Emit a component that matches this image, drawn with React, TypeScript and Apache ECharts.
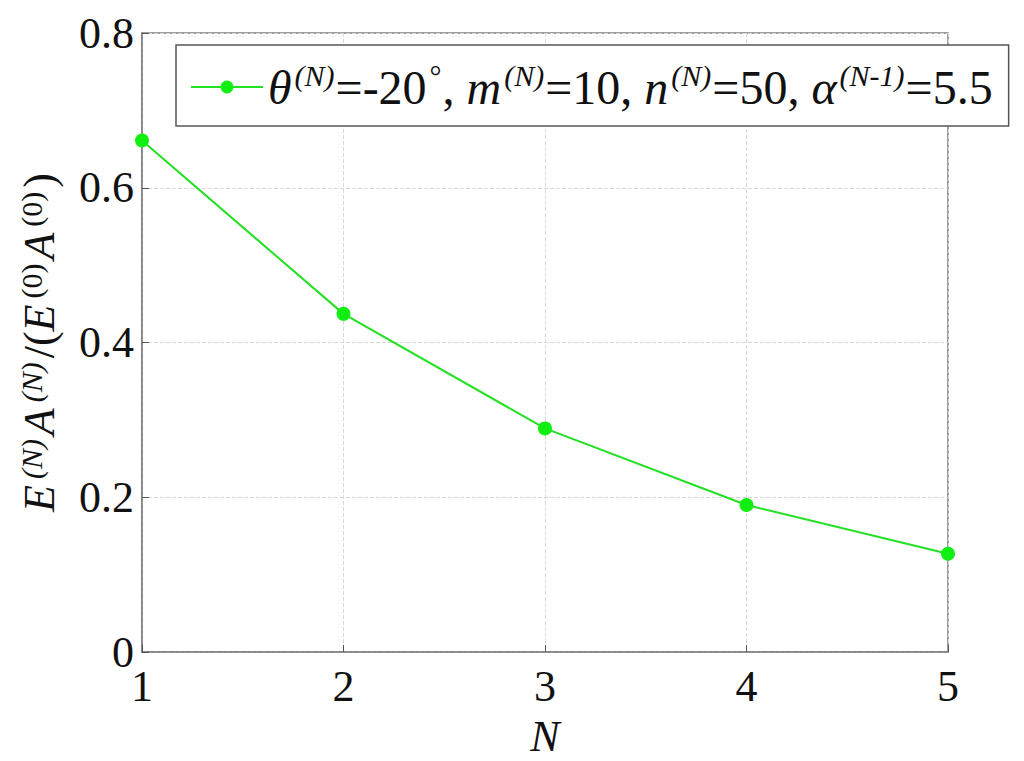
import React, { useEffect, useRef } from "react";
import * as echarts from "echarts";

const xValues = [1, 2, 3, 4, 5];
const yValues = [0.661, 0.437, 0.289, 0.19, 0.127];
const xTicks = [1, 2, 3, 4, 5];
const yTicks = [0, 0.2, 0.4, 0.6, 0.8];
const seriesName = "theta";

const FONT = "'Liberation Serif', 'Times New Roman', serif";

export default function App() {
  const ref = useRef<HTMLDivElement>(null);
  useEffect(() => {
    document.body.style.margin = "0";
    document.body.style.overflow = "hidden";
    if (!ref.current) return;
    const chart = echarts.init(ref.current, undefined, { renderer: "svg" });
    const mk = (size: number, supSize: number, raise: number, gapL: number, gapR: number) => ({
      it: { fontFamily: FONT, fontSize: size, fontStyle: "italic", color: "#111" },
      rm: { fontFamily: FONT, fontSize: size, color: "#111" },
      sup: { fontFamily: FONT, fontSize: supSize, fontStyle: "italic", color: "#111", verticalAlign: "top", padding: [0, gapR, raise, gapL] },
      supN: { fontFamily: FONT, fontSize: supSize, color: "#111", verticalAlign: "top", padding: [0, gapR, raise, gapL] },
    });
    chart.setOption({
      animation: false,
      backgroundColor: "#fff",
      grid: {
        left: 142,
        right: 76,
        top: 33,
        bottom: 109,
        containLabel: false,
        outerBoundsMode: "none",
        show: true,
        borderColor: "#7f7f7f",
        borderWidth: 1.5,
      },
      legend: {
        left: 176,
        top: 45,
        itemWidth: 72,
        itemHeight: 16,
        itemGap: 10,
        padding: [15, 16, 15, 14],
        borderColor: "#555",
        borderWidth: 1.5,
        backgroundColor: "#fff",
        data: [seriesName],
        formatter: () =>
          "{it|θ}{sup|(N)}{rm|=-20}{supN|°}{rm|, }{it|m}{sup|(N)}{rm|=10, }{it|n}{sup|(N)}{rm|=50, }{it|α}{sup|(N-1)}{rm|=5.5}",
        textStyle: { rich: mk(48, 30, 24, 3, 1) },
      },
      xAxis: {
        type: "value",
        min: 1,
        max: 5,
        interval: 1,
        name: "N",
        nameLocation: "middle",
        nameGap: 62,
        nameTextStyle: { fontFamily: FONT, fontSize: 44, fontStyle: "italic", color: "#111" },
        axisLine: { show: true, lineStyle: { color: "#7f7f7f", width: 1.5 } },
        axisTick: { show: true, inside: true, length: 7, lineStyle: { color: "#555" } },
        axisLabel: { fontFamily: FONT, fontSize: 44, color: "#111", margin: 12, formatter: (v: number) => (xTicks.includes(v) ? String(v) : "") },
        splitLine: { show: true, lineStyle: { color: "#d8d8d8", type: "dashed", width: 1 } },
      },
      yAxis: {
        type: "value",
        min: 0,
        max: 0.8,
        interval: 0.2,
        name: "{it|E}{sup|(N)}{it|A}{sup|(N)}{rm|/(}{it|E}{supN|(0)}{it|A}{supN|(0)}{rm|)}",
        nameLocation: "middle",
        nameGap: 80,
        nameTextStyle: { rich: mk(44, 30, 16, 6, 4) },
        axisLine: { show: true, lineStyle: { color: "#7f7f7f", width: 1.5 } },
        axisTick: { show: true, inside: true, length: 7, lineStyle: { color: "#555" } },
        axisLabel: {
          fontFamily: FONT,
          fontSize: 44,
          color: "#111",
          margin: 8,
          formatter: (v: number) => {
            const m = yTicks.find((t) => Math.abs(t - v) < 1e-9);
            return m === undefined ? "" : m === 0 ? "0" : m.toFixed(1);
          },
        },
        splitLine: { show: true, lineStyle: { color: "#d8d8d8", type: "dashed", width: 1 } },
      },
      series: [
        {
          name: seriesName,
          type: "line",
          data: xValues.map((x, i) => [x, yValues[i]]),
          symbol: "circle",
          symbolSize: 14,
          lineStyle: { color: "#22e022", width: 2 },
          itemStyle: { color: "#11ee11" },
          clip: false,
        },
      ],
    });
    return () => chart.dispose();
  }, []);
  return <div ref={ref} style={{ width: 1024, height: 761, position: "absolute", left: 0, top: 0, overflow: "hidden" }} />;
}
